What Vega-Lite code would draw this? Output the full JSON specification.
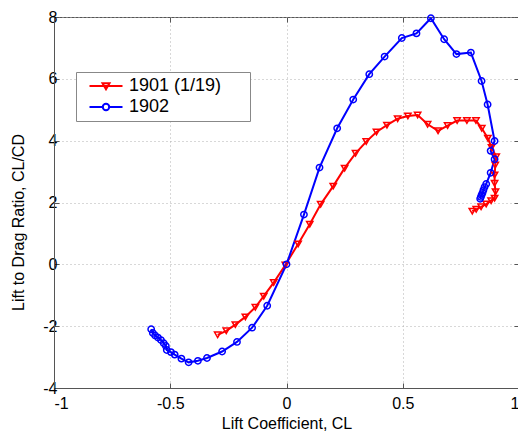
{
  "$schema": "https://vega.github.io/schema/vega-lite/v6.json",
  "width": 465,
  "height": 371,
  "autosize": "none",
  "padding": {"left": 54, "top": 17, "right": 0, "bottom": 48},
  "background": "white",
  "config": {
    "font": "Liberation Sans",
    "view": {"stroke": "#555", "strokeWidth": 1},
    "locale": {"number": {"decimal": ".", "thousands": ",", "grouping": [3], "currency": ["$", ""], "minus": "-"}},
    "axis": {
      "labelFont": "Liberation Sans", "labelFontSize": 16, "labelColor": "black",
      "titleFont": "Liberation Sans", "titleFontSize": 16, "titleFontWeight": "normal", "titleColor": "black",
      "domainColor": "#555", "tickColor": "#555", "tickSize": -5,
      "gridColor": "#b0b0b0", "gridDash": [1, 3], "gridWidth": 1
    }
  },
  "data": {"values": [
    {"series": "1901 (1/19)", "i": 1, "cl": -0.296, "ld": -2.28},
    {"series": "1901 (1/19)", "i": 2, "cl": -0.259, "ld": -2.15},
    {"series": "1901 (1/19)", "i": 3, "cl": -0.220, "ld": -1.95},
    {"series": "1901 (1/19)", "i": 4, "cl": -0.177, "ld": -1.70},
    {"series": "1901 (1/19)", "i": 5, "cl": -0.134, "ld": -1.39},
    {"series": "1901 (1/19)", "i": 6, "cl": -0.098, "ld": -1.03},
    {"series": "1901 (1/19)", "i": 7, "cl": -0.055, "ld": -0.59},
    {"series": "1901 (1/19)", "i": 8, "cl": -0.005, "ld": -0.02},
    {"series": "1901 (1/19)", "i": 9, "cl": 0.050, "ld": 0.66},
    {"series": "1901 (1/19)", "i": 10, "cl": 0.100, "ld": 1.30},
    {"series": "1901 (1/19)", "i": 11, "cl": 0.147, "ld": 1.94},
    {"series": "1901 (1/19)", "i": 12, "cl": 0.201, "ld": 2.53},
    {"series": "1901 (1/19)", "i": 13, "cl": 0.250, "ld": 3.11},
    {"series": "1901 (1/19)", "i": 14, "cl": 0.297, "ld": 3.59},
    {"series": "1901 (1/19)", "i": 15, "cl": 0.343, "ld": 3.97},
    {"series": "1901 (1/19)", "i": 16, "cl": 0.387, "ld": 4.28},
    {"series": "1901 (1/19)", "i": 17, "cl": 0.432, "ld": 4.50},
    {"series": "1901 (1/19)", "i": 18, "cl": 0.478, "ld": 4.71},
    {"series": "1901 (1/19)", "i": 19, "cl": 0.522, "ld": 4.80},
    {"series": "1901 (1/19)", "i": 20, "cl": 0.564, "ld": 4.83},
    {"series": "1901 (1/19)", "i": 21, "cl": 0.607, "ld": 4.53},
    {"series": "1901 (1/19)", "i": 22, "cl": 0.652, "ld": 4.32},
    {"series": "1901 (1/19)", "i": 23, "cl": 0.693, "ld": 4.49},
    {"series": "1901 (1/19)", "i": 24, "cl": 0.734, "ld": 4.65},
    {"series": "1901 (1/19)", "i": 25, "cl": 0.776, "ld": 4.65},
    {"series": "1901 (1/19)", "i": 26, "cl": 0.815, "ld": 4.65},
    {"series": "1901 (1/19)", "i": 27, "cl": 0.840, "ld": 4.40},
    {"series": "1901 (1/19)", "i": 28, "cl": 0.866, "ld": 4.08},
    {"series": "1901 (1/19)", "i": 29, "cl": 0.882, "ld": 3.78},
    {"series": "1901 (1/19)", "i": 30, "cl": 0.902, "ld": 3.48},
    {"series": "1901 (1/19)", "i": 31, "cl": 0.898, "ld": 3.21},
    {"series": "1901 (1/19)", "i": 32, "cl": 0.895, "ld": 2.89},
    {"series": "1901 (1/19)", "i": 33, "cl": 0.895, "ld": 2.62},
    {"series": "1901 (1/19)", "i": 34, "cl": 0.899, "ld": 2.35},
    {"series": "1901 (1/19)", "i": 35, "cl": 0.895, "ld": 2.14},
    {"series": "1901 (1/19)", "i": 36, "cl": 0.880, "ld": 2.06},
    {"series": "1901 (1/19)", "i": 37, "cl": 0.859, "ld": 1.95},
    {"series": "1901 (1/19)", "i": 38, "cl": 0.837, "ld": 1.86},
    {"series": "1901 (1/19)", "i": 39, "cl": 0.816, "ld": 1.78},
    {"series": "1901 (1/19)", "i": 40, "cl": 0.799, "ld": 1.72},
    {"series": "1902", "i": 1, "cl": -0.582, "ld": -2.10},
    {"series": "1902", "i": 2, "cl": -0.575, "ld": -2.22},
    {"series": "1902", "i": 3, "cl": -0.565, "ld": -2.30},
    {"series": "1902", "i": 4, "cl": -0.553, "ld": -2.37},
    {"series": "1902", "i": 5, "cl": -0.540, "ld": -2.45},
    {"series": "1902", "i": 6, "cl": -0.528, "ld": -2.55},
    {"series": "1902", "i": 7, "cl": -0.519, "ld": -2.64},
    {"series": "1902", "i": 8, "cl": -0.515, "ld": -2.77},
    {"series": "1902", "i": 9, "cl": -0.497, "ld": -2.84},
    {"series": "1902", "i": 10, "cl": -0.481, "ld": -2.92},
    {"series": "1902", "i": 11, "cl": -0.452, "ld": -3.05},
    {"series": "1902", "i": 12, "cl": -0.421, "ld": -3.17},
    {"series": "1902", "i": 13, "cl": -0.381, "ld": -3.12},
    {"series": "1902", "i": 14, "cl": -0.342, "ld": -3.03},
    {"series": "1902", "i": 15, "cl": -0.277, "ld": -2.82},
    {"series": "1902", "i": 16, "cl": -0.213, "ld": -2.51},
    {"series": "1902", "i": 17, "cl": -0.148, "ld": -2.05},
    {"series": "1902", "i": 18, "cl": -0.083, "ld": -1.34},
    {"series": "1902", "i": 19, "cl": 0.000, "ld": 0.00},
    {"series": "1902", "i": 20, "cl": 0.075, "ld": 1.61},
    {"series": "1902", "i": 21, "cl": 0.142, "ld": 3.13},
    {"series": "1902", "i": 22, "cl": 0.218, "ld": 4.40},
    {"series": "1902", "i": 23, "cl": 0.287, "ld": 5.33},
    {"series": "1902", "i": 24, "cl": 0.356, "ld": 6.15},
    {"series": "1902", "i": 25, "cl": 0.422, "ld": 6.72},
    {"series": "1902", "i": 26, "cl": 0.496, "ld": 7.32},
    {"series": "1902", "i": 27, "cl": 0.559, "ld": 7.47},
    {"series": "1902", "i": 28, "cl": 0.621, "ld": 7.96},
    {"series": "1902", "i": 29, "cl": 0.678, "ld": 7.28},
    {"series": "1902", "i": 30, "cl": 0.731, "ld": 6.80},
    {"series": "1902", "i": 31, "cl": 0.793, "ld": 6.85},
    {"series": "1902", "i": 32, "cl": 0.839, "ld": 5.93},
    {"series": "1902", "i": 33, "cl": 0.865, "ld": 5.17},
    {"series": "1902", "i": 34, "cl": 0.895, "ld": 3.99},
    {"series": "1902", "i": 35, "cl": 0.878, "ld": 3.67},
    {"series": "1902", "i": 36, "cl": 0.895, "ld": 3.40},
    {"series": "1902", "i": 37, "cl": 0.878, "ld": 2.96},
    {"series": "1902", "i": 38, "cl": 0.859, "ld": 2.60},
    {"series": "1902", "i": 39, "cl": 0.852, "ld": 2.50},
    {"series": "1902", "i": 40, "cl": 0.847, "ld": 2.40},
    {"series": "1902", "i": 41, "cl": 0.843, "ld": 2.31},
    {"series": "1902", "i": 42, "cl": 0.839, "ld": 2.24},
    {"series": "1902", "i": 43, "cl": 0.836, "ld": 2.18},
    {"series": "1902", "i": 44, "cl": 0.833, "ld": 2.12}
  ]},
  "layer": [
    {
      "mark": {"type": "line", "strokeWidth": 2},
      "encoding": {
        "x": {"field": "cl", "type": "quantitative", "scale": {"domain": [-1, 1], "nice": false},
              "axis": {"orient": "bottom", "values": [-1, -0.5, 0, 0.5, 1], "format": "~g", "labelPadding": 12,
                       "title": "Lift Coefficient, CL", "titlePadding": 4}},
        "y": {"field": "ld", "type": "quantitative", "scale": {"domain": [-4, 8], "nice": false},
              "axis": {"orient": "left", "values": [-4, -2, 0, 2, 4, 6, 8], "format": "~g", "labelPadding": 2,
                       "title": "Lift to Drag Ratio, CL/CD", "titleX": -31, "titleY": 205,
                       "titleAngle": -90, "titleBaseline": "alphabetic", "titleAlign": "center"}},
        "color": {"field": "series", "type": "nominal",
                  "scale": {"domain": ["1901 (1/19)", "1902"], "range": ["#ff0000", "#0000ff"]}, "legend": null},
        "order": {"field": "i", "type": "quantitative"}
      }
    },
    {
      "mark": {"type": "point", "filled": false, "strokeWidth": 1.5, "size": 40, "opacity": 1},
      "encoding": {
        "x": {"field": "cl", "type": "quantitative",
              "axis": {"orient": "top", "values": [-1, -0.5, 0, 0.5, 1], "labels": false, "grid": false, "title": null, "domain": false}},
        "y": {"field": "ld", "type": "quantitative",
              "axis": {"orient": "right", "values": [-4, -2, 0, 2, 4, 6, 8], "labels": false, "grid": false, "title": null, "domain": false}},
        "color": {"field": "series", "type": "nominal",
                  "scale": {"domain": ["1901 (1/19)", "1902"], "range": ["#ff0000", "#0000ff"]}, "legend": null},
        "shape": {"field": "series", "type": "nominal",
                  "scale": {"domain": ["1901 (1/19)", "1902"], "range": ["triangle-down", "circle"]}, "legend": null}
      }
    },
    {
      "transform": [{"filter": "false"}],
      "mark": {"type": "point", "filled": false, "strokeWidth": 2, "opacity": 1},
      "encoding": {
        "x": {"field": "cl", "type": "quantitative", "axis": null},
        "y": {"field": "ld", "type": "quantitative", "axis": null},
        "color": {"field": "series", "type": "nominal",
                  "scale": {"domain": ["1901 (1/19)", "1902"], "range": ["#ff0000", "#0000ff"]},
                  "legend": {"orient": "none", "legendX": 22, "legendY": 55, "title": null,
                             "symbolSize": 100, "symbolStrokeWidth": 2, "symbolOpacity": 1,
                             "labelFontSize": 18, "labelFont": "Liberation Sans", "labelColor": "black",
                             "fillColor": "white", "strokeColor": "#888", "padding": 5, "rowPadding": 3,
                             "labelOffset": 14, "symbolOffset": 16}},
        "shape": {"field": "series", "type": "nominal",
                  "scale": {"domain": ["1901 (1/19)", "1902"],
                            "range": ["M-3.3 0H3.3M-0.7 -0.55L0.7 -0.55L0 0.65ZM27 0",
                                      "M-3.3 0H-0.64M0.64 0H3.3M0.64 0A0.64 0.64 0 1 1 -0.64 0A0.64 0.64 0 1 1 0.64 0ZM27 0"]},
                  "legend": {"orient": "none", "legendX": 22, "legendY": 55, "title": null,
                             "symbolSize": 100, "symbolStrokeWidth": 2, "symbolOpacity": 1,
                             "labelFontSize": 18, "labelFont": "Liberation Sans", "labelColor": "black",
                             "fillColor": "white", "strokeColor": "#888", "padding": 5, "rowPadding": 3,
                             "labelOffset": 14, "symbolOffset": 16}}
      }
    }
  ],
  "resolve": {"scale": {"color": "independent", "shape": "independent"}, "axis": {"x": "independent", "y": "independent"}}
}
